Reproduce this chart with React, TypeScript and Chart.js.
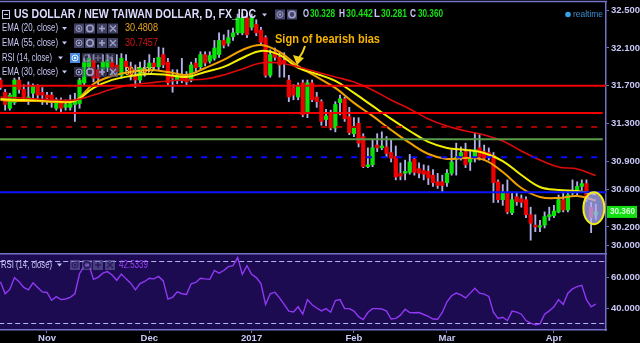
import React, { useEffect, useRef } from 'react';
import { Chart, registerables } from 'chart.js';

Chart.register(...registerables);

// ---------------- data ----------------
const opens = [31.76,31.63,31.46,31.52,31.76,31.66,31.56,31.62,31.69,31.63,
 31.60,31.60,31.46,31.53,31.47,31.47,31.50,31.51,31.73,31.90,
 31.97,31.87,31.87,31.89,31.95,31.92,31.81,31.96,31.90,31.81,
 31.76,31.87,31.89,31.94,31.90,32.03,31.95,31.81,31.76,31.80,
 31.79,31.76,31.94,31.90,32.03,31.96,31.99,32.03,32.18,32.15,
 32.22,32.26,32.26,32.42,32.32,32.35,32.29,32.21,31.81,32.06,
 32.00,31.97,31.76,31.68,31.58,31.73,31.41,31.73,31.58,31.53,
 31.34,31.41,31.25,31.52,31.56,31.37,31.19,31.30,31.16,30.84,
 30.86,31.07,31.04,31.05,30.99,30.95,30.77,30.77,30.78,30.92,
 30.82,30.80,30.79,30.75,30.68,30.68,30.67,30.77,30.92,30.95,
 31.00,30.89,30.93,31.04,31.00,30.99,30.96,30.68,30.49,30.56,
 30.35,30.52,30.50,30.49,30.33,30.22,30.20,30.22,30.31,30.32,
 30.36,30.49,30.38,30.56,30.58,30.63,30.66,30.41,30.328];
const highs = [31.78,31.66,31.62,31.78,31.79,31.71,31.74,31.72,31.71,31.68,
 31.63,31.63,31.57,31.57,31.55,31.60,31.62,31.78,31.99,32.03,
 32.03,31.92,32.03,32.03,32.00,32.03,32.04,32.03,31.95,31.92,
 31.95,31.97,32.03,31.99,32.11,32.10,31.99,31.87,31.87,31.99,
 31.85,31.95,31.99,32.06,32.06,32.06,32.18,32.26,32.24,32.29,
 32.31,32.46,32.47,32.47,32.46,32.40,32.32,32.23,32.08,32.10,
 32.05,32.05,31.81,31.71,31.73,31.76,31.76,31.76,31.63,31.55,
 31.45,31.44,31.53,31.60,31.58,31.47,31.36,31.36,31.19,31.04,
 31.12,31.19,31.21,31.16,31.12,31.06,30.88,30.91,30.97,30.94,
 30.88,30.86,30.85,30.81,30.77,30.75,30.81,31.02,31.09,31.05,
 31.09,31.02,31.20,31.18,31.07,31.04,30.99,30.70,30.65,30.70,
 30.56,30.56,30.54,30.52,30.41,30.33,30.27,30.36,30.41,30.43,
 30.54,30.57,30.59,30.70,30.68,30.70,30.70,30.46,30.442];
const lows = [31.66,31.44,31.44,31.50,31.62,31.55,31.50,31.55,31.53,31.50,
 31.50,31.47,31.44,31.42,31.44,31.44,31.32,31.46,31.70,31.87,
 31.74,31.71,31.81,31.85,31.81,31.80,31.78,31.85,31.76,31.68,
 31.73,31.80,31.85,31.87,31.87,31.89,31.71,31.63,31.72,31.73,
 31.71,31.74,31.85,31.87,31.91,31.94,31.97,32.00,32.10,32.12,
 32.18,32.24,32.24,32.21,32.29,32.23,32.13,31.79,31.79,31.97,
 31.79,31.79,31.53,31.55,31.55,31.37,31.36,31.53,31.47,31.28,
 31.26,31.23,31.21,31.39,31.32,31.18,31.16,31.05,30.83,30.83,
 30.84,31.00,31.02,30.94,30.89,30.70,30.70,30.70,30.76,30.75,
 30.72,30.70,30.65,30.63,30.61,30.57,30.63,30.75,30.75,30.91,
 30.83,30.80,30.89,30.91,30.91,30.91,30.46,30.46,30.43,30.34,
 30.33,30.43,30.41,30.30,30.06,30.15,30.15,30.19,30.27,30.30,
 30.35,30.36,30.36,30.54,30.54,30.59,30.47,30.14,30.281];
const closes = [31.68,31.50,31.60,31.76,31.66,31.58,31.58,31.70,31.60,31.60,
 31.57,31.52,31.53,31.46,31.50,31.51,31.55,31.76,31.95,31.99,
 31.78,31.78,31.95,31.97,31.87,31.85,31.99,31.90,31.81,31.76,
 31.89,31.84,31.94,31.90,32.00,31.92,31.73,31.78,31.81,31.76,
 31.74,31.92,31.89,32.03,31.94,32.02,32.10,32.18,32.13,32.21,
 32.26,32.42,32.42,32.24,32.42,32.26,32.16,31.81,32.03,32.00,
 31.92,31.94,31.58,31.60,31.69,31.39,31.73,31.55,31.53,31.32,
 31.38,31.25,31.50,31.56,31.35,31.20,31.27,31.09,30.84,30.86,
 31.04,31.04,31.06,30.98,30.93,30.73,30.74,30.79,30.89,30.78,
 30.77,30.76,30.72,30.67,30.64,30.64,30.77,30.89,30.94,30.99,
 30.86,30.92,31.02,30.94,30.93,30.95,30.67,30.49,30.56,30.36,
 30.49,30.47,30.46,30.33,30.24,30.20,30.21,30.31,30.33,30.37,
 30.49,30.38,30.54,30.58,30.63,30.66,30.49,30.30,30.360];

const rsiValues = [56.9,49.2,52.0,59.6,57.0,53.3,51.7,56.3,53.3,50.4,
 50.0,45.0,47.3,45.4,45.8,46.9,49.2,62.1,67.3,67.9,
 58.5,59.8,62.5,63.5,61.3,57.9,61.9,58.8,56.0,51.7,
 55.8,57.1,59.2,58.8,60.4,57.5,45.8,46.9,50.4,49.2,
 48.8,55.6,56.5,59.2,58.8,58.5,64.2,62.5,64.2,66.7,
 67.3,72.5,61.7,67.3,61.7,59.6,55.8,42.3,49.2,50.2,
 46.5,42.3,38.0,37.5,40.8,36.0,45.4,42.1,40.0,38.1,
 39.6,37.3,44.8,45.4,39.6,39.6,38.0,34.4,32.5,37.1,
 39.6,39.6,39.4,38.0,32.9,33.3,35.4,39.2,37.1,36.9,
 37.1,35.8,34.6,32.9,32.7,37.1,44.0,47.9,49.6,48.5,
 46.5,49.6,52.7,49.6,49.0,47.5,37.1,33.3,34.0,31.9,
 38.0,37.3,36.0,31.9,30.2,29.2,29.8,36.0,38.1,40.8,
 45.4,42.3,49.6,52.3,53.8,54.6,45.4,40.8,42.5339];

const emaIdx = [0,4,8,12,16,20,24,28,32,36,40,44,48,52,56,60,64,68,72,76,80,84,88,92,96,100,104,108,112,116,120,124,128];
const ema20 = [31.548,31.538,31.538,31.527,31.538,31.718,31.803,31.846,31.867,31.846,31.814,31.888,31.973,32.079,32.132,32.058,31.909,31.793,31.676,31.517,31.379,31.230,31.092,30.975,30.922,30.933,30.912,30.784,30.614,30.519,30.508,30.529,30.481];
const ema30 = [31.559,31.548,31.548,31.538,31.538,31.676,31.761,31.803,31.824,31.814,31.793,31.846,31.899,31.994,32.069,32.026,31.888,31.824,31.750,31.623,31.485,31.347,31.219,31.103,31.039,31.018,30.986,30.900,30.752,30.625,30.593,30.582,30.548];
const ema55 = [31.580,31.570,31.559,31.548,31.548,31.600,31.665,31.708,31.729,31.750,31.761,31.771,31.814,31.878,31.941,31.941,31.899,31.846,31.793,31.739,31.655,31.548,31.453,31.347,31.272,31.219,31.177,31.113,31.007,30.911,30.837,30.816,30.746];

const levelValues = [31.70, 31.41, 31.26, 31.13, 30.94, 30.57];
const levelEnds = [131, 129.5, 131, 129.5, 131, 131];

const priceTicks = [30.0, 30.2, 30.6, 30.9, 31.3, 31.7, 32.1, 32.5];
const rsiTicks = [40, 60];
const rsiBands = [70, 30];
const monthTickIdx = [10, 32, 54, 76, 96, 119];
const monthLabels = ['Nov', 'Dec', '2017', 'Feb', 'Mar', 'Apr'];

const titleText = 'US DOLLAR / NEW TAIWAN DOLLAR, D, FX_IDC';
const ohlcLetters = ['O', 'H', 'L', 'C'];
const ohlcValues = ['30.328', '30.442', '30.281', '30.360'];
const lastClose = 30.36;
const emaNames = ['EMA (20, close)', 'EMA (55, close)', 'RSI (14, close)', 'EMA (30, close)'];
const emaLegendValues = ['30.4808', '30.7457', '', '30.5482'];
const rsiLegendValue = '42.5339';
const noteText = 'Sign of bearish bias';
const highlightIdx = 127.6;
const highlightPrice = 30.40;

// ---------------- layout / style ----------------
const X_MIN = -0.105;
const X_MAX = 130.2;
const AXIS = '#7272c8';
const TXT = '#c8c8f8';
const FONT = "'Liberation Sans Narrow', 'Liberation Sans', Arial, sans-serif";
const LEVEL_COLORS = ['#f00000', '#f00000', '#a80000', '#5a9a48', '#0a0aff', '#0a14ff'];
const LEVEL_DASH: number[][] = [[], [], [6, 9], [], [6, 9], []];

function label(ctx: CanvasRenderingContext2D, s: string, x: number, y: number, w: number, color: string, font: string) {
  ctx.font = font;
  ctx.fillStyle = color;
  ctx.textAlign = 'left';
  ctx.textBaseline = 'middle';
  ctx.fillText(s, x, y, w);
}

function caret(ctx: CanvasRenderingContext2D, x: number, y: number, color: string) {
  ctx.fillStyle = color;
  ctx.beginPath();
  ctx.moveTo(x, y - 1.5);
  ctx.lineTo(x + 5, y - 1.5);
  ctx.lineTo(x + 2.5, y + 1.5);
  ctx.closePath();
  ctx.fill();
}

function btn(ctx: CanvasRenderingContext2D, x: number, y: number, kind: string, fill: string, fg: string) {
  const w = 10, h = 10;
  ctx.fillStyle = fill;
  ctx.fillRect(x, y, w, h);
  ctx.strokeStyle = fg;
  ctx.fillStyle = fg;
  ctx.lineWidth = 1;
  const cx = x + w / 2, cy = y + h / 2;
  ctx.beginPath();
  if (kind === 'eye') {
    ctx.arc(cx, cy, 3, 0, Math.PI * 2);
    ctx.stroke();
    ctx.beginPath();
    ctx.arc(cx, cy, 1.2, 0, Math.PI * 2);
    ctx.fill();
  } else if (kind === 'gear') {
    ctx.arc(cx, cy, 3.2, 0, Math.PI * 2);
    ctx.lineWidth = 1.6;
    ctx.stroke();
    ctx.beginPath();
    ctx.fillStyle = fill;
    ctx.arc(cx, cy, 1, 0, Math.PI * 2);
    ctx.fill();
  } else if (kind === 'plus') {
    ctx.lineWidth = 1.6;
    ctx.moveTo(cx - 3, cy); ctx.lineTo(cx + 3, cy);
    ctx.moveTo(cx, cy - 3); ctx.lineTo(cx, cy + 3);
    ctx.stroke();
  } else {
    ctx.lineWidth = 1.3;
    ctx.moveTo(cx - 3, cy - 3); ctx.lineTo(cx + 3, cy + 3);
    ctx.moveTo(cx + 3, cy - 3); ctx.lineTo(cx - 3, cy + 3);
    ctx.stroke();
  }
}

const KINDS = ['eye', 'gear', 'plus', 'x'];

const mainOverlay = {
  id: 'mainOverlay',
  beforeDraw(chart: any) {
    const { ctx, width, height } = chart;
    ctx.save();
    ctx.fillStyle = '#000';
    ctx.fillRect(0, 0, width, height);
    ctx.restore();
  },
  afterDatasetsDraw(chart: any) {
    const ctx: CanvasRenderingContext2D = chart.ctx;
    const xs = chart.scales.x, ys = chart.scales.y;
    ctx.save();
    // highlight ellipse
    const cx = xs.getPixelForValue(highlightIdx);
    const cy = ys.getPixelForValue(highlightPrice);
    ctx.beginPath();
    ctx.ellipse(cx, cy, 10.5, 16, 0, 0, Math.PI * 2);
    ctx.fillStyle = 'rgba(176,176,255,0.74)';
    ctx.fill();
    ctx.lineWidth = 2;
    ctx.strokeStyle = '#f4ef12';
    ctx.stroke();

    // annotation
    label(ctx, noteText, 275, 40, 105, '#f6b400', `bold 12.5px ${FONT}`);
    ctx.strokeStyle = '#f2d21a';
    ctx.fillStyle = '#f2d21a';
    ctx.lineWidth = 2;
    ctx.beginPath();
    ctx.moveTo(305, 46);
    ctx.quadraticCurveTo(303, 53, 299, 58);
    ctx.stroke();
    ctx.beginPath();
    ctx.moveTo(293, 55);
    ctx.lineTo(304, 58);
    ctx.lineTo(297, 65);
    ctx.closePath();
    ctx.fill();

    // title row
    ctx.strokeStyle = TXT;
    ctx.lineWidth = 1;
    ctx.strokeRect(2.5, 10.5, 7, 8);
    ctx.beginPath();
    ctx.moveTo(4, 14.5); ctx.lineTo(8, 14.5);
    ctx.stroke();
    label(ctx, titleText, 14, 15, 242, '#dcdcff', `bold 12.5px ${FONT}`);
    caret(ctx, 262, 15, TXT);
    btn(ctx, 275, 9.5, 'eye', '#46466c', '#a0a0c8');
    btn(ctx, 287, 9.5, 'gear', '#46466c', '#a0a0c8');
    const ohlcX = [303, 339, 374, 410];
    const valX = [310, 346, 381, 418];
    const valW = [25, 27, 26, 25];
    for (let k = 0; k < 4; k++) {
      label(ctx, ohlcLetters[k], ohlcX[k], 14.5, 6, TXT, `bold 10px ${FONT}`);
      label(ctx, ohlcValues[k], valX[k], 14.5, valW[k], '#14e014', `bold 10px ${FONT}`);
    }
    ctx.fillStyle = '#3aa0e4';
    ctx.beginPath();
    ctx.arc(568, 14.5, 2.8, 0, Math.PI * 2);
    ctx.fill();
    label(ctx, 'realtime', 573, 14.5, 30, '#3a8fd2', `9.5px ${FONT}`);

    // study rows
    const rowY = [28.5, 43, 58, 72];
    const valColors = ['#e8a41c', '#d41414', '', '#e4e436'];
    for (let r = 0; r < 4; r++) {
      const y = rowY[r];
      const isRsi = r === 2;
      label(ctx, emaNames[r], 2, y, isRsi ? 50 : 56, TXT, `10.5px ${FONT}`);
      caret(ctx, isRsi ? 58 : 62, y, TXT);
      const bx = isRsi ? [70, 82, 93, 105] : [74, 85, 97, 108];
      for (let k = 0; k < 4; k++) {
        let fill = r === 3 ? 'rgba(70,70,110,0.6)' : 'rgba(70,70,108,0.92)';
        let fg = '#a0a0c8';
        if (isRsi) {
          fill = k === 0 ? '#4a8ae0' : 'rgba(90,90,130,0.45)';
          fg = k === 0 ? '#e6f2ff' : 'rgba(160,160,200,0.5)';
        }
        btn(ctx, bx[k], y - 5, KINDS[k], fill, fg);
      }
      if (emaLegendValues[r]) {
        label(ctx, emaLegendValues[r], 125, y, r === 3 ? 29 : 33, valColors[r], `10.5px ${FONT}`);
      }
    }
    ctx.restore();
  },
  afterDraw(chart: any) {
    const ctx: CanvasRenderingContext2D = chart.ctx;
    const ys = chart.scales.y;
    const ca = chart.chartArea;
    ctx.save();
    ctx.strokeStyle = AXIS;
    ctx.lineWidth = 1.5;
    ctx.beginPath();
    ctx.moveTo(0, 1.5);
    ctx.lineTo(ca.right + 1, 1.5);
    ctx.stroke();
    const y = ys.getPixelForValue(lastClose);
    ctx.fillStyle = '#12de12';
    ctx.fillRect(ca.right + 1, y - 6, 30, 12);
    label(ctx, ohlcValues[3], ca.right + 4, y, 25, '#d6ffd6', `bold 9px ${FONT}`);
    ctx.restore();
  },
};

const rsiOverlay = {
  id: 'rsiOverlay',
  beforeDraw(chart: any) {
    const { ctx, width, height, chartArea } = chart;
    ctx.save();
    ctx.fillStyle = '#000';
    ctx.fillRect(0, 0, width, height);
    ctx.fillStyle = '#1c0b50';
    ctx.fillRect(chartArea.left, chartArea.top, chartArea.right - chartArea.left, chartArea.bottom - chartArea.top);
    ctx.restore();
  },
  afterDraw(chart: any) {
    const ctx: CanvasRenderingContext2D = chart.ctx;
    const ca = chart.chartArea;
    ctx.save();
    ctx.strokeStyle = AXIS;
    ctx.lineWidth = 1.5;
    ctx.beginPath();
    ctx.moveTo(0, 0.75);
    ctx.lineTo(ca.right + 1, 0.75);
    ctx.stroke();
    label(ctx, emaNames[2], 1, 12, 51, TXT, `10.5px ${FONT}`);
    caret(ctx, 57, 12, TXT);
    const bx = [70, 82, 93, 105];
    for (let k = 0; k < 4; k++) btn(ctx, bx[k], 7, KINDS[k], 'rgba(110,110,170,0.55)', 'rgba(40,20,90,0.9)');
    label(ctx, rsiLegendValue, 119, 12, 29, '#9c3cff', `10.5px ${FONT}`);
    ctx.restore();
  },
};

function zeroPad(s: any) {
  s.paddingTop = 0; s.paddingBottom = 0; s.paddingLeft = 0; s.paddingRight = 0;
}

export default function App() {
  const mainRef = useRef<HTMLCanvasElement>(null);
  const rsiRef = useRef<HTMLCanvasElement>(null);

  useEffect(() => {
    const idx = opens.map((_, i) => i);
    const wickData = idx.map(i => ({ x: i, y: [lows[i], highs[i]] }));
    const bodyData = idx.map(i => ({ x: i, y: [opens[i], closes[i]] }));
    const bodyColors = idx.map(i => (closes[i] >= opens[i] ? '#08e408' : '#f00000'));

    const emaSet = (vals: number[], color: string, width: number) => ({
      type: 'line' as const,
      data: emaIdx.map((x, k) => ({ x, y: vals[k] })),
      borderColor: color,
      borderWidth: width,
      pointRadius: 0,
      tension: 0.4,
      order: 1,
    });

    const levelSets = levelValues.map((v, k) => ({
      type: 'line' as const,
      data: [{ x: -2, y: v }, { x: levelEnds[k], y: v }],
      borderColor: LEVEL_COLORS[k],
      borderWidth: 2,
      borderDash: LEVEL_DASH[k],
      pointRadius: 0,
      order: 0,
    }));

    const main = new Chart(mainRef.current as HTMLCanvasElement, {
      type: 'bar',
      data: {
        datasets: [
          ...levelSets,
          emaSet(ema55, '#dc0a0a', 1.6),
          emaSet(ema30, '#f2f000', 2),
          emaSet(ema20, '#f0a000', 2),
          {
            type: 'bar',
            data: bodyData as any,
            backgroundColor: bodyColors,
            borderWidth: 0,
            barThickness: 3.6,
            minBarLength: 1.2,
            grouped: false,
            order: 2,
          } as any,
          {
            type: 'bar',
            data: wickData as any,
            backgroundColor: '#b2b2ea',
            borderWidth: 0,
            barThickness: 1.2,
            grouped: false,
            order: 3,
          } as any,
        ],
      },
      options: {
        animation: false,
        responsive: false,
        maintainAspectRatio: false,
        devicePixelRatio: 1,
        layout: { padding: { top: 2, left: 0, right: 0, bottom: 0 } },
        plugins: { legend: { display: false }, tooltip: { enabled: false } },
        scales: {
          x: { type: 'linear', min: X_MIN, max: X_MAX, display: false, offset: false, grid: { offset: false } },
          y: {
            position: 'right',
            min: 29.924,
            max: 32.588,
            beginAtZero: false,
            afterBuildTicks: (s: any) => { s.ticks = priceTicks.map(v => ({ value: v })); },
            afterFit: (s: any) => { s.width = 34; zeroPad(s); },
            grid: { drawOnChartArea: false, tickLength: 3, color: AXIS },
            border: { display: true, color: AXIS, width: 1.5 },
            ticks: {
              color: TXT,
              padding: 2,
              font: { family: FONT, size: 9.5, weight: 'bold' },
              callback: (v: any) => Number(v).toFixed(3),
            },
          },
        },
      } as any,
      plugins: [mainOverlay],
    });

    const rsi = new Chart(rsiRef.current as HTMLCanvasElement, {
      type: 'line',
      data: {
        datasets: [
          {
            data: idx.map(i => ({ x: i, y: rsiValues[i] })),
            borderColor: '#9038f4',
            borderWidth: 1.4,
            pointRadius: 0,
            tension: 0,
            order: 0,
          },
          ...rsiBands.map(v => ({
            data: [{ x: -2, y: v }, { x: 131, y: v }],
            borderColor: '#b4b4f4',
            borderWidth: 1,
            borderDash: [5, 3],
            pointRadius: 0,
            order: 1,
          })),
        ],
      },
      options: {
        animation: false,
        responsive: false,
        maintainAspectRatio: false,
        devicePixelRatio: 1,
        layout: { padding: 0 },
        plugins: { legend: { display: false }, tooltip: { enabled: false } },
        scales: {
          x: {
            type: 'linear',
            min: X_MIN,
            max: X_MAX,
            afterBuildTicks: (s: any) => { s.ticks = monthTickIdx.map(v => ({ value: v })); },
            afterFit: (s: any) => { s.height = 13; zeroPad(s); },
            grid: { drawOnChartArea: false, tickLength: 3, color: AXIS },
            border: { display: true, color: AXIS, width: 1.5 },
            ticks: {
              autoSkip: false,
              maxRotation: 0,
              padding: 0,
              color: TXT,
              font: { family: FONT, size: 9.5, weight: 'bold' },
              callback: (v: any) => {
                const k = monthTickIdx.indexOf(Number(v));
                return k >= 0 ? monthLabels[k] : '';
              },
            },
          },
          y: {
            position: 'right',
            min: 25.8,
            max: 75.5,
            afterBuildTicks: (s: any) => { s.ticks = rsiTicks.map(v => ({ value: v })); },
            afterFit: (s: any) => { s.width = 34; zeroPad(s); },
            grid: { drawOnChartArea: false, tickLength: 3, color: AXIS },
            border: { display: true, color: AXIS, width: 1.5 },
            ticks: {
              color: TXT,
              padding: 2,
              font: { family: FONT, size: 9.5, weight: 'bold' },
              callback: (v: any) => Number(v).toFixed(4),
            },
          },
        },
      } as any,
      plugins: [rsiOverlay],
    });

    return () => {
      main.destroy();
      rsi.destroy();
    };
  }, []);

  return (
    <div style={{ position: 'absolute', left: 0, top: 0, width: 640, height: 343, background: '#000', overflow: 'hidden' }}>
      <canvas ref={mainRef} width={640} height={253} style={{ position: 'absolute', left: 0, top: 0, width: 640, height: 253 }} />
      <canvas ref={rsiRef} width={640} height={90} style={{ position: 'absolute', left: 0, top: 253, width: 640, height: 90 }} />
    </div>
  );
}
